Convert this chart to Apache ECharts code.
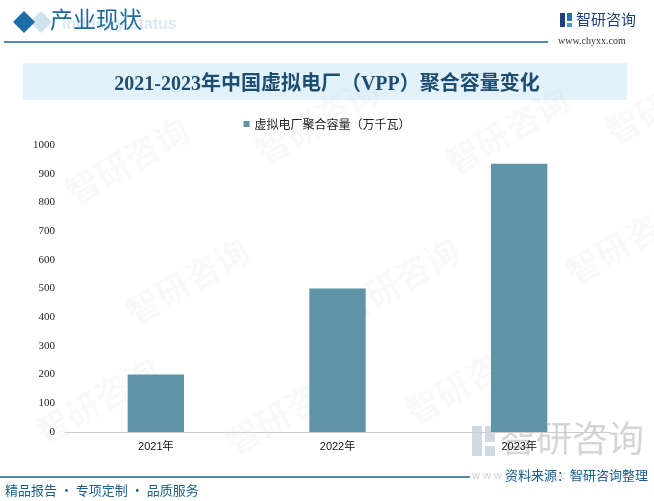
<!DOCTYPE html>
<html><head><meta charset="utf-8">
<script src="https://cdn.jsdelivr.net/npm/echarts@6/dist/echarts.min.js"></script>
<style>html,body{margin:0;padding:0;background:#fff}#c{width:654px;height:501px}</style>
</head><body><div id="c"></div>
<script>
const categories = ['2021年', '2022年', '2023年'];
const capacity = [200, 500, 935];
const seriesName = '虚拟电厂聚合容量（万千瓦）';
const titleText = '2021-2023年中国虚拟电厂（VPP）聚合容量变化';

const chart = echarts.init(document.getElementById('c'));
const cjk = '"Noto Sans CJK SC", "Noto Sans", sans-serif';
const wm = [];
const wmPos = [[60,180],[250,140],[440,150],[120,300],[330,300],[560,260],[30,420],[220,430],[400,400],[600,120]];
wmPos.forEach(p => wm.push({
  type: 'text', x: p[0], y: p[1], rotation: Math.PI/6, silent: true, z: 0,
  style: { text: '智研咨询', fill: 'rgba(200,215,225,0.14)', font: 'bold 34px ' + cjk }
}));
chart.setOption({
  animation: false,
  title: {
    text: titleText, left: 'center', top: 70,
    textStyle: { fontSize: 20, fontWeight: 'bold', color: '#1d4e72', fontFamily: '"Liberation Serif", "Noto Sans CJK SC", serif' }
  },
  legend: {
    top: 113, left: 'center', icon: 'rect', itemWidth: 6, itemHeight: 6, itemGap: 4,
    textStyle: { fontSize: 12, color: '#222', fontFamily: cjk }
  },
  grid: { left: 65, right: 44, top: 145, bottom: 69 },
  xAxis: {
    type: 'category', data: categories,
    axisLine: { lineStyle: { color: '#cccccc' } },
    axisTick: { show: false },
    axisLabel: { color: '#111', fontSize: 11, margin: 9, fontFamily: '"Liberation Sans", "Noto Sans CJK SC", sans-serif' }
  },
  yAxis: {
    type: 'value', min: 0, max: 1000, interval: 100,
    axisLine: { show: false }, axisTick: { show: false }, splitLine: { show: false },
    axisLabel: { color: '#222', fontSize: 11, margin: 10, formatter: v => String(v), fontFamily: '"Liberation Serif", serif' }
  },
  series: [{
    name: seriesName, type: 'bar', data: capacity, barWidth: '31%',
    itemStyle: { color: '#5f93a8' }
  }],
  graphic: wm.concat([
    { type: 'polygon', shape: { points: [[30,22],[41,11],[52,22],[41,33]] }, style: { fill: '#cfe3ef' }, silent: true },
    { type: 'polygon', shape: { points: [[13,22],[24,11],[35,22],[24,33]] }, style: { fill: '#1b6ea6' }, silent: true },
    { type: 'text', x: 62, y: 17, style: { text: 'Industry status', fill: '#dce9f3', font: 'bold 16px "Liberation Sans", sans-serif' }, silent: true },
    { type: 'text', x: 50, y: 8, style: { text: '产业现状', fill: '#1f6b9c', font: '23px "Noto Sans CJK SC", serif' }, silent: true },
    { type: 'line', shape: { x1: 4, y1: 42, x2: 548, y2: 42 }, style: { stroke: '#1b6590', lineWidth: 1.5 }, silent: true },
    { type: 'rect', shape: { x: 560, y: 13, width: 5, height: 14 }, style: { fill: '#1f3f80' }, silent: true },
    { type: 'rect', shape: { x: 567, y: 13, width: 5, height: 8 }, style: { fill: '#2a6fb5' }, silent: true },
    { type: 'rect', shape: { x: 567, y: 23, width: 5, height: 4 }, style: { fill: '#4a9ad5' }, silent: true },
    { type: 'text', x: 576, y: 12, style: { text: '智研咨询', fill: '#1f3f80', font: '15px ' + cjk }, silent: true },
    { type: 'text', x: 558, y: 36, style: { text: 'www.chyxx.com', fill: '#333', font: '10px "Liberation Serif", serif' }, silent: true },
    { type: 'rect', shape: { x: 23, y: 63, width: 604, height: 37 }, style: { fill: '#e3f1fa' }, z: -1, silent: true },
    { type: 'rect', shape: { x: 472, y: 426, width: 10, height: 30 }, style: { fill: 'rgba(140,160,185,0.4)' }, silent: true },
    { type: 'rect', shape: { x: 485, y: 426, width: 10, height: 16 }, style: { fill: 'rgba(140,160,185,0.4)' }, silent: true },
    { type: 'rect', shape: { x: 485, y: 446, width: 10, height: 10 }, style: { fill: 'rgba(140,160,185,0.4)' }, silent: true },
    { type: 'text', x: 500, y: 420, style: { text: '智研咨询', fill: 'rgba(150,150,150,0.4)', font: '36px ' + cjk }, silent: true },
    { type: 'text', x: 472, y: 470, style: { text: 'w w w . c h y x x . c o m', fill: 'rgba(150,150,150,0.45)', font: '11px sans-serif' }, silent: true },
    { type: 'line', shape: { x1: 0, y1: 477, x2: 470, y2: 477 }, style: { stroke: '#1b6590', lineWidth: 1.5 }, silent: true },
    { type: 'text', x: 505, y: 469, style: { text: '资料来源：智研咨询整理', fill: '#1b5f8e', font: '13px ' + cjk }, silent: true },
    { type: 'text', x: 5, y: 484, style: { text: '精品报告 · 专项定制 · 品质服务', fill: '#1b5f8e', font: '13px ' + cjk }, silent: true }
  ])
});
</script></body></html>
